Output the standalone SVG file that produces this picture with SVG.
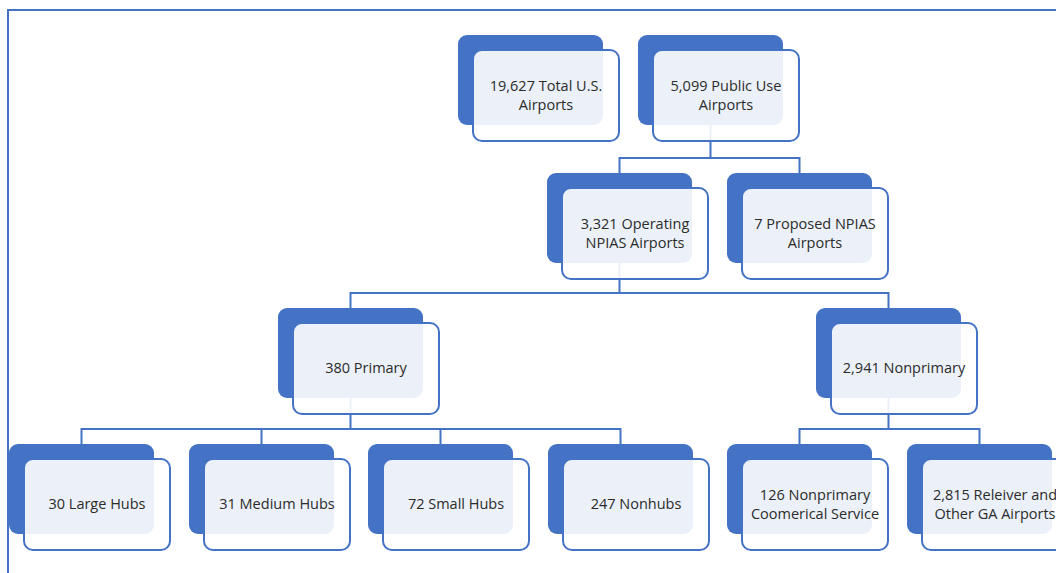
<svg xmlns="http://www.w3.org/2000/svg" width="1056" height="573" viewBox="0 0 1056 573">
<style>
.bk{fill:#4472C4}
.fr{fill:#fff;fill-opacity:0.9;stroke:#4472C4;stroke-width:2}
.tx{font-family:"Open Sans","Liberation Sans",sans-serif;font-size:14.5px;fill:#2b2b2b;text-anchor:middle}
.cn{fill:none;stroke:#4472C4;stroke-width:2}
</style>
<defs>
<g id="card">
<rect class="bk" x="0" y="0" width="145" height="90" rx="9"/>
<rect class="fr" x="15" y="15" width="146" height="91" rx="9"/>
</g>
</defs>
<rect x="8" y="10" width="1100" height="600" fill="#fff" stroke="#4472C4" stroke-width="2"/>
<g id="connectors">
<path class="cn" d="M710.5 125V158M619.5 173V158H799.5V173"/>
<path class="cn" d="M619.5 263V293M350.5 308V293H888.5V308"/>
<path class="cn" d="M350.5 398V429M81.5 444V429H620.5V444M261.5 429V444M440.5 429V444"/>
<path class="cn" d="M888.5 398V429M799.5 444V429H979.5V444"/>
</g>
<g id="n-total" transform="translate(458,35)"><use href="#card"/><text class="tx" x="88" y="56">19,627 Total U.S.</text><text class="tx" x="88" y="74.5">Airports</text></g>
<g id="n-public" transform="translate(638,35)"><use href="#card"/><text class="tx" x="88" y="56">5,099 Public Use</text><text class="tx" x="88" y="74.5">Airports</text></g>
<g id="n-operating" transform="translate(547,173)"><use href="#card"/><text class="tx" x="88" y="56">3,321 Operating</text><text class="tx" x="88" y="74.5">NPIAS Airports</text></g>
<g id="n-proposed" transform="translate(727,173)"><use href="#card"/><text class="tx" x="88" y="56">7 Proposed NPIAS</text><text class="tx" x="88" y="74.5">Airports</text></g>
<g id="n-primary" transform="translate(278,308)"><use href="#card"/><text class="tx" x="88" y="65">380 Primary</text></g>
<g id="n-nonprimary" transform="translate(816,308)"><use href="#card"/><text class="tx" x="88" y="65">2,941 Nonprimary</text></g>
<g id="n-large" transform="translate(9,444)"><use href="#card"/><text class="tx" x="88" y="65">30 Large Hubs</text></g>
<g id="n-medium" transform="translate(189,444)"><use href="#card"/><text class="tx" x="88" y="65">31 Medium Hubs</text></g>
<g id="n-small" transform="translate(368,444)"><use href="#card"/><text class="tx" x="88" y="65">72 Small Hubs</text></g>
<g id="n-nonhubs" transform="translate(548,444)"><use href="#card"/><text class="tx" x="88" y="65">247 Nonhubs</text></g>
<g id="n-commercial" transform="translate(727,444)"><use href="#card"/><text class="tx" x="88" y="56">126 Nonprimary</text><text class="tx" x="88" y="74.5">Coomerical Service</text></g>
<g id="n-reliever" transform="translate(907,444)"><use href="#card"/><text class="tx" x="88" y="56">2,815 Releiver and</text><text class="tx" x="88" y="74.5">Other GA Airports</text></g>
</svg>
